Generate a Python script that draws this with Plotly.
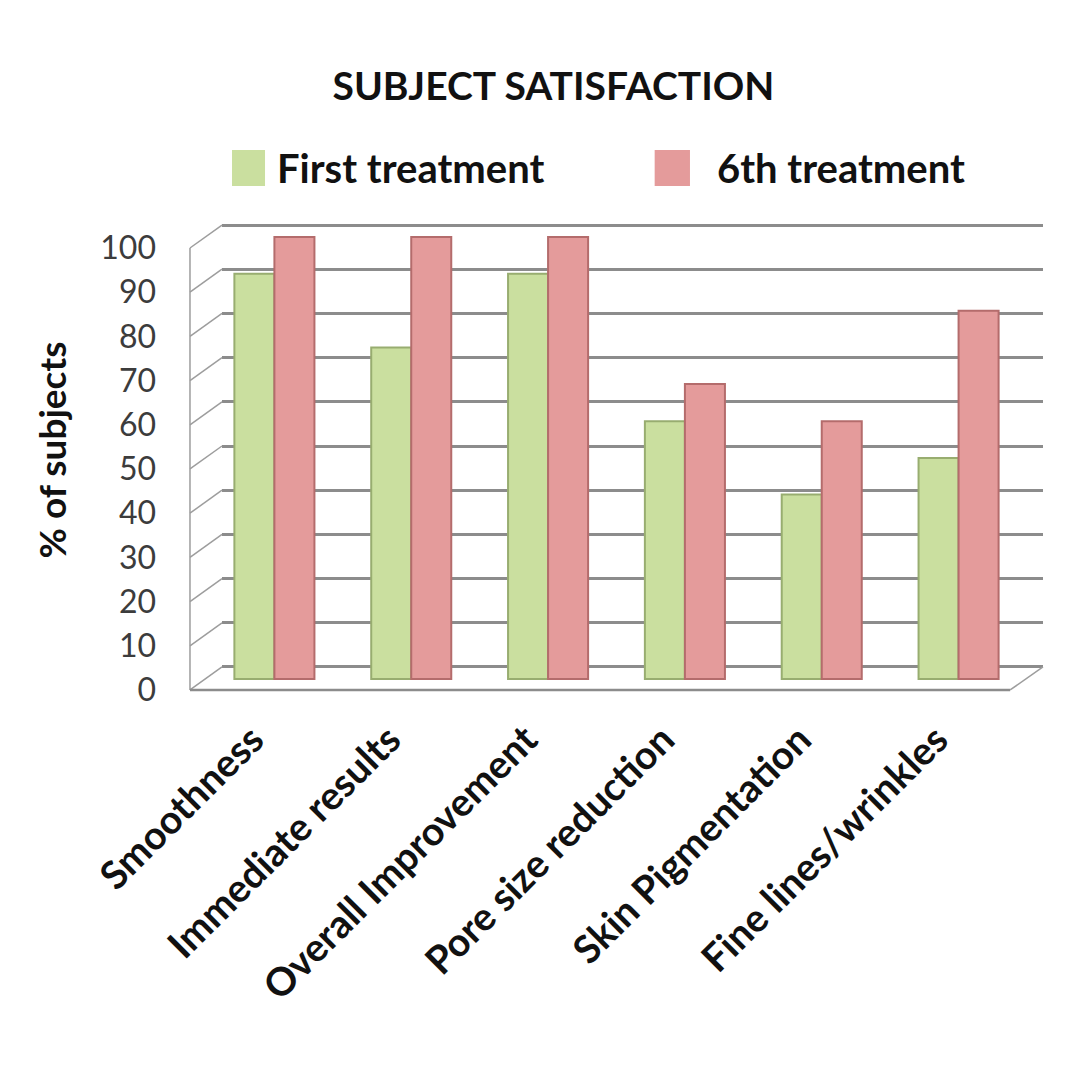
import plotly.graph_objects as go

# data (12 subjects -> multiples of 1/12)
categories = ['Smoothness', 'Immediate results', 'Overall Improvement',
              'Pore size reduction', 'Skin Pigmentation', 'Fine lines/wrinkles']
first_treatment = [91.7, 75.0, 91.7, 58.3, 41.7, 50.0]
sixth_treatment = [100.0, 100.0, 100.0, 66.7, 58.3, 83.3]
series_names = ['First treatment', '6th treatment']
y_ticks = [0, 10, 20, 30, 40, 50, 60, 70, 80, 90, 100]

green = '#cadf9f'
green_edge = '#98ad70'
red = '#e49b9b'
red_edge = '#b46c6c'

# bars sit a bit in front of the back wall (fake 3d depth)
depth_shift = -2.7
front_shift = -5.2
grid_col = '#8c8c8c'
wall_col = '#9d9d9d'

fig = go.Figure()
fig.add_trace(go.Bar(x=categories, y=first_treatment, base=depth_shift, name=series_names[0],
                     marker=dict(color=green, line=dict(color=green_edge, width=2)),
                     showlegend=False))
fig.add_trace(go.Bar(x=categories, y=sixth_treatment, base=depth_shift, name=series_names[1],
                     marker=dict(color=red, line=dict(color=red_edge, width=2)),
                     showlegend=False))

# side wall and floor of the box
front_x = -0.039
for v in y_ticks:
    fig.add_shape(type='line', xref='x domain', yref='y', x0=front_x, x1=0,
                  y0=v + front_shift, y1=v, line=dict(color=wall_col, width=1.5))
fig.add_shape(type='line', xref='x domain', yref='y', x0=front_x, x1=front_x,
              y0=front_shift, y1=100 + front_shift, line=dict(color=wall_col, width=1.5))
fig.add_shape(type='line', xref='x domain', yref='y', x0=front_x, x1=0.96,
              y0=front_shift, y1=front_shift, line=dict(color=grid_col, width=2.5))
fig.add_shape(type='line', xref='x domain', yref='y', x0=0.96, x1=1.0,
              y0=front_shift, y1=0, line=dict(color=wall_col, width=1.5))

# legend drawn by hand to get the big swatches
legend_items = [(series_names[0], green, 0.0122, 0.0524, 0.064),
                (series_names[1], red, 0.527, 0.570, 0.601)]
for name, col, sx0, sx1, tx in legend_items:
    fig.add_shape(type='rect', xref='paper', yref='paper', x0=sx0, x1=sx1, y0=1.028, y1=1.1,
                  fillcolor=col, line=dict(width=0))
    fig.add_annotation(text='<b>' + name + '</b>', xref='paper', yref='paper', x=tx, y=1.064,
                       xanchor='left', yanchor='middle', showarrow=False,
                       font=dict(family='Lato', size=40, color='#111111'))

fig.update_layout(
    width=1080, height=1080,
    margin=dict(l=214, r=45, t=192, b=388),
    paper_bgcolor='white', plot_bgcolor='white',
    title=dict(text='<b>SUBJECT SATISFACTION</b>', x=0.505, xanchor='center',
               y=1 - 78 / 1080, yanchor='middle', yref='container',
               font=dict(family='Lato', size=39, color='#111111')),
    barmode='group', bargap=0.415, bargroupgap=0,
    font=dict(family='Lato'),
)
fig.update_xaxes(range=[-0.383, 5.617], tickangle=-45, showgrid=False, zeroline=False,
                 showline=False, ticks='', ticklabelshift=-22, ticklabelstandoff=8,
                 tickfont=dict(family='Lato', size=39, color='#111111', weight='bold'))
fig.update_yaxes(range=[-7.47, 105.66], tickvals=y_ticks, showgrid=True, gridcolor=grid_col,
                 gridwidth=2.5, zeroline=False, showline=False, ticks='',
                 ticklabelstandoff=65, ticklabelshift=23,
                 tickfont=dict(family='Lato', size=32, color='#3c3c3c'),
                 title=dict(text='<b>% of subjects</b>', standoff=22,
                            font=dict(family='Lato', size=37, color='#111111')))

fig.write_html("out.html")
